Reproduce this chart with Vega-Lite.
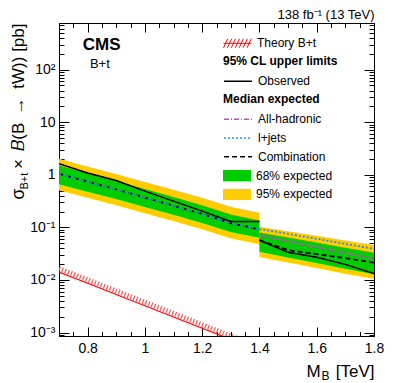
{
  "$schema": "https://vega.github.io/schema/vega-lite/v6.json",
  "width": 315,
  "height": 313,
  "autosize": {"type": "none"},
  "padding": {"left": 59, "top": 23, "right": 25, "bottom": 47},
  "datasets": {
    "bands": [
      {"m": 0.7, "seg": "L", "band": "95% expected", "lo": 0.51, "hi": 2.02},
      {"m": 0.8, "seg": "L", "band": "95% expected", "lo": 0.366, "hi": 1.44},
      {"m": 0.9, "seg": "L", "band": "95% expected", "lo": 0.264, "hi": 1.04},
      {"m": 1.0, "seg": "L", "band": "95% expected", "lo": 0.186, "hi": 0.733},
      {"m": 1.1, "seg": "L", "band": "95% expected", "lo": 0.132, "hi": 0.52},
      {"m": 1.2, "seg": "L", "band": "95% expected", "lo": 0.092, "hi": 0.365},
      {"m": 1.3, "seg": "L", "band": "95% expected", "lo": 0.0618, "hi": 0.246},
      {"m": 1.4, "seg": "L", "band": "95% expected", "lo": 0.0478, "hi": 0.19},
      {"m": 1.4, "seg": "R", "band": "95% expected", "lo": 0.0273, "hi": 0.103},
      {"m": 1.5, "seg": "R", "band": "95% expected", "lo": 0.0214, "hi": 0.084},
      {"m": 1.6, "seg": "R", "band": "95% expected", "lo": 0.0168, "hi": 0.069},
      {"m": 1.7, "seg": "R", "band": "95% expected", "lo": 0.0132, "hi": 0.0563},
      {"m": 1.8, "seg": "R", "band": "95% expected", "lo": 0.0105, "hi": 0.046},
      {"m": 0.7, "seg": "L", "band": "68% expected", "lo": 0.66, "hi": 1.5},
      {"m": 0.8, "seg": "L", "band": "68% expected", "lo": 0.474, "hi": 1.065},
      {"m": 0.9, "seg": "L", "band": "68% expected", "lo": 0.345, "hi": 0.763},
      {"m": 1.0, "seg": "L", "band": "68% expected", "lo": 0.244, "hi": 0.537},
      {"m": 1.1, "seg": "L", "band": "68% expected", "lo": 0.174, "hi": 0.378},
      {"m": 1.2, "seg": "L", "band": "68% expected", "lo": 0.1215, "hi": 0.263},
      {"m": 1.3, "seg": "L", "band": "68% expected", "lo": 0.0816, "hi": 0.176},
      {"m": 1.4, "seg": "L", "band": "68% expected", "lo": 0.0635, "hi": 0.135},
      {"m": 1.4, "seg": "R", "band": "68% expected", "lo": 0.0345, "hi": 0.08},
      {"m": 1.5, "seg": "R", "band": "68% expected", "lo": 0.0268, "hi": 0.0641},
      {"m": 1.6, "seg": "R", "band": "68% expected", "lo": 0.021, "hi": 0.0514},
      {"m": 1.7, "seg": "R", "band": "68% expected", "lo": 0.0164, "hi": 0.0412},
      {"m": 1.8, "seg": "R", "band": "68% expected", "lo": 0.0128, "hi": 0.033}
    ],
    "lines": [
      {"m": 0.7, "series": "Combination", "seg": "L", "v": 1.05},
      {"m": 0.8, "series": "Combination", "seg": "L", "v": 0.74},
      {"m": 0.9, "series": "Combination", "seg": "L", "v": 0.53},
      {"m": 1.0, "series": "Combination", "seg": "L", "v": 0.37},
      {"m": 1.1, "series": "Combination", "seg": "L", "v": 0.26},
      {"m": 1.2, "series": "Combination", "seg": "L", "v": 0.18},
      {"m": 1.3, "series": "Combination", "seg": "L", "v": 0.12},
      {"m": 1.4, "series": "Combination", "seg": "L", "v": 0.092},
      {"m": 1.4, "series": "Combination", "seg": "R", "v": 0.057},
      {"m": 1.5, "series": "Combination", "seg": "R", "v": 0.037},
      {"m": 1.6, "series": "Combination", "seg": "R", "v": 0.031},
      {"m": 1.7, "series": "Combination", "seg": "R", "v": 0.026},
      {"m": 1.8, "series": "Combination", "seg": "R", "v": 0.0213},
      {"m": 0.7, "series": "l+jets", "seg": "A", "v": 1.05},
      {"m": 0.8, "series": "l+jets", "seg": "A", "v": 0.74},
      {"m": 0.9, "series": "l+jets", "seg": "A", "v": 0.53},
      {"m": 1.0, "series": "l+jets", "seg": "A", "v": 0.37},
      {"m": 1.1, "series": "l+jets", "seg": "A", "v": 0.26},
      {"m": 1.2, "series": "l+jets", "seg": "A", "v": 0.18},
      {"m": 1.3, "series": "l+jets", "seg": "A", "v": 0.12},
      {"m": 1.4, "series": "l+jets", "seg": "A", "v": 0.093},
      {"m": 1.5, "series": "l+jets", "seg": "A", "v": 0.0755},
      {"m": 1.6, "series": "l+jets", "seg": "A", "v": 0.0606},
      {"m": 1.7, "series": "l+jets", "seg": "A", "v": 0.0486},
      {"m": 1.8, "series": "l+jets", "seg": "A", "v": 0.039},
      {"m": 1.4, "series": "All-hadronic", "seg": "R", "v": 0.071},
      {"m": 1.5, "series": "All-hadronic", "seg": "R", "v": 0.055},
      {"m": 1.6, "series": "All-hadronic", "seg": "R", "v": 0.0425},
      {"m": 1.7, "series": "All-hadronic", "seg": "R", "v": 0.033},
      {"m": 1.8, "series": "All-hadronic", "seg": "R", "v": 0.0254}
    ],
    "observed": [
      {"m": 0.7, "seg": "L", "obs": "Observed", "v": 1.62},
      {"m": 0.8, "seg": "L", "obs": "Observed", "v": 1.08},
      {"m": 0.9, "seg": "L", "obs": "Observed", "v": 0.78},
      {"m": 1.0, "seg": "L", "obs": "Observed", "v": 0.49},
      {"m": 1.1, "seg": "L", "obs": "Observed", "v": 0.316},
      {"m": 1.2, "seg": "L", "obs": "Observed", "v": 0.204},
      {"m": 1.3, "seg": "L", "obs": "Observed", "v": 0.13},
      {"m": 1.4, "seg": "L", "obs": "Observed", "v": 0.13},
      {"m": 1.4, "seg": "R", "obs": "Observed", "v": 0.057},
      {"m": 1.5, "seg": "R", "obs": "Observed", "v": 0.0335},
      {"m": 1.6, "seg": "R", "obs": "Observed", "v": 0.027},
      {"m": 1.7, "seg": "R", "obs": "Observed", "v": 0.0198},
      {"m": 1.8, "seg": "R", "obs": "Observed", "v": 0.0132}
    ],
    "theory": [
      {"m": 0.7, "th": "Theory B+t", "v": 0.01415},
      {"m": 0.8, "th": "Theory B+t", "v": 0.00865},
      {"m": 0.9, "th": "Theory B+t", "v": 0.00528},
      {"m": 1.0, "th": "Theory B+t", "v": 0.00324},
      {"m": 1.1, "th": "Theory B+t", "v": 0.00198},
      {"m": 1.2, "th": "Theory B+t", "v": 0.00121},
      {"m": 1.3, "th": "Theory B+t", "v": 0.00074},
      {"m": 1.4, "th": "Theory B+t", "v": 0.00045},
      {"m": 1.5, "th": "Theory B+t", "v": 0.00028},
      {"m": 1.6, "th": "Theory B+t", "v": 0.00017},
      {"m": 1.7, "th": "Theory B+t", "v": 0.000104},
      {"m": 1.8, "th": "Theory B+t", "v": 0.000064}
    ]
  },
  "resolve": {"axis": {"x": "independent", "y": "independent"}},
  "layer": [
    {
      "data": {"name": "bands"},
      "transform": [{"filter": "datum.band === '95% expected'"}],
      "mark": {"type": "area", "clip": true, "opacity": 1},
      "encoding": {
        "x": {
          "field": "m", "type": "quantitative",
          "scale": {"domain": [0.7, 1.8], "nice": false, "zero": false},
          "axis": {
            "orient": "bottom",
            "values": [0.7,0.75,0.8,0.85,0.9,0.95,1,1.05,1.1,1.15,1.2,1.25,1.3,1.35,1.4,1.45,1.5,1.55,1.6,1.65,1.7,1.75,1.8],
            "labelExpr": "round(datum.value*100) % 20 === 0 ? format(datum.value, '~g') : ''",
            "tickSize": {"condition": {"test": "round(datum.value*100) % 20 === 0", "value": -9}, "value": -4.5},
            "labelPadding": 14,
            "labelFontSize": 14,
            "labelFlush": false,
            "labelOverlap": false,
            "labelBound": false,
            "title": "[TeV]",
            "titleFontSize": 17,
            "titleX": 315,
            "titleY": 40.5,
            "titleAlign": "right",
            "titleBaseline": "alphabetic",
            "titleAnchor": null
          }
        },
        "y": {
          "field": "lo", "type": "quantitative", "stack": null,
          "scale": {"type": "log", "domain": [0.00086, 770], "nice": false},
          "axis": {
            "orient": "left",
            "values": [0.0009,0.001,0.002,0.003,0.004,0.005,0.006,0.007,0.008,0.009,0.01,0.02,0.03,0.04,0.05,0.06,0.07,0.08,0.09,0.1,0.2,0.3,0.4,0.5,0.6,0.7,0.8,0.9,1,2,3,4,5,6,7,8,9,10,20,30,40,50,60,70,80,90,100,200,300,400,500,600,700],
            "labelExpr": "datum.value===0.001?'10⁻³':datum.value===0.01?'10⁻²':datum.value===0.1?'10⁻¹':datum.value===1?'1':datum.value===10?'10':datum.value===100?'10²':''",
            "tickSize": {"condition": {"test": "indexof([0.001,0.01,0.1,1,10,100], datum.value) >= 0", "value": -10}, "value": -5},
            "labelPadding": 14,
            "labelFontSize": 14,
            "labelFlush": false,
            "labelOverlap": false,
            "labelBound": false,
            "title": "×\u2002𝐵(B\u2002→\u2002tW)) [pb]",
            "titleFontSize": 17,
            "titleX": -36,
            "titleY": 0,
            "titleAngle": 270,
            "titleAlign": "right",
            "titleBaseline": "alphabetic",
            "titleAnchor": null
          }
        },
        "y2": {"field": "hi"},
        "fill": {
          "field": "band", "type": "nominal",
          "scale": {"domain": ["68% expected", "95% expected"], "range": ["#00cc00", "#ffcc00"]},
          "legend": {
            "orient": "none", "legendX": 164, "legendY": 145.7, "title": null,
            "symbolType": "M-1,-0.4H1V0.4H-1Z", "symbolStrokeWidth": 0, "symbolOpacity": 1
          }
        },
        "detail": {"field": "seg"}
      }
    },
    {
      "data": {"name": "bands"},
      "transform": [{"filter": "datum.band === '68% expected'"}],
      "mark": {"type": "area", "clip": true, "opacity": 1},
      "encoding": {
        "x": {
          "field": "m", "type": "quantitative",
          "axis": {
            "orient": "top",
            "values": [0.7,0.75,0.8,0.85,0.9,0.95,1,1.05,1.1,1.15,1.2,1.25,1.3,1.35,1.4,1.45,1.5,1.55,1.6,1.65,1.7,1.75,1.8],
            "labels": false,
            "tickSize": {"condition": {"test": "round(datum.value*100) % 20 === 0", "value": -9}, "value": -4.5},
            "title": "138 fb⁻¹ (13 TeV)",
            "titleFontSize": 13,
            "titleX": 315,
            "titleY": -5,
            "titleAlign": "right",
            "titleBaseline": "alphabetic",
            "titleAnchor": null
          }
        },
        "y": {
          "field": "lo", "type": "quantitative", "stack": null,
          "axis": {
            "orient": "right",
            "values": [0.0009,0.001,0.002,0.003,0.004,0.005,0.006,0.007,0.008,0.009,0.01,0.02,0.03,0.04,0.05,0.06,0.07,0.08,0.09,0.1,0.2,0.3,0.4,0.5,0.6,0.7,0.8,0.9,1,2,3,4,5,6,7,8,9,10,20,30,40,50,60,70,80,90,100,200,300,400,500,600,700],
            "labels": false,
            "tickSize": {"condition": {"test": "indexof([0.001,0.01,0.1,1,10,100], datum.value) >= 0", "value": -10}, "value": -5},
            "title": null
          }
        },
        "y2": {"field": "hi"},
        "fill": {"field": "band", "type": "nominal"},
        "detail": {"field": "seg"}
      }
    },
    {
      "data": {"name": "lines"},
      "mark": {"type": "line", "clip": true, "strokeWidth": 1.8},
      "encoding": {
        "x": {
          "field": "m", "type": "quantitative",
          "axis": {
            "orient": "bottom", "labels": false, "ticks": false, "domain": false,
            "title": "B", "titleFontSize": 12, "titleX": 262, "titleY": 43.5,
            "titleAlign": "left", "titleBaseline": "alphabetic", "titleAnchor": null
          }
        },
        "y": {
          "field": "v", "type": "quantitative",
          "axis": {
            "orient": "left", "labels": false, "ticks": false, "domain": false,
            "title": "σ", "titleFontSize": 17.5, "titleX": -36, "titleY": 176, "titleAngle": 270,
            "titleAlign": "left", "titleBaseline": "alphabetic", "titleAnchor": null
          }
        },
        "stroke": {
          "field": "series", "type": "nominal",
          "scale": {"domain": ["All-hadronic", "l+jets", "Combination"], "range": ["#d63cd6", "#2b8fdc", "#000000"]},
          "legend": {"orient": "none", "legendX": 164, "legendY": 71.3, "title": "Median expected", "symbolType": "stroke", "symbolStrokeWidth": 1.5}
        },
        "strokeDash": {
          "field": "series", "type": "nominal",
          "scale": {"domain": ["All-hadronic", "l+jets", "Combination"], "range": [[5, 2, 1, 2], [2, 2], [5, 3]]},
          "legend": {"orient": "none", "legendX": 164, "legendY": 71.3, "title": "Median expected", "symbolType": "stroke", "symbolStrokeWidth": 1.5}
        },
        "detail": {"field": "seg"}
      }
    },
    {
      "data": {"name": "observed"},
      "mark": {"type": "line", "clip": true, "strokeWidth": 1.5, "color": "black"},
      "encoding": {
        "x": {
          "field": "m", "type": "quantitative",
          "axis": {
            "orient": "bottom", "labels": false, "ticks": false, "domain": false,
            "title": "M", "titleFontSize": 17, "titleX": 247, "titleY": 40.5,
            "titleAlign": "left", "titleBaseline": "alphabetic", "titleAnchor": null
          }
        },
        "y": {
          "field": "v", "type": "quantitative",
          "axis": {
            "orient": "left", "labels": false, "ticks": false, "domain": false,
            "title": "B+t", "titleFontSize": 11, "titleX": -32, "titleY": 166, "titleAngle": 270,
            "titleAlign": "left", "titleBaseline": "alphabetic", "titleAnchor": null
          }
        },
        "opacity": {
          "field": "obs", "type": "nominal", "scale": {"range": [1]},
          "legend": {"orient": "none", "legendX": 164, "legendY": 33.3, "title": "95% CL upper limits", "symbolType": "stroke", "symbolStrokeColor": "black", "symbolStrokeWidth": 1.5}
        },
        "detail": {"field": "seg"}
      }
    },
    {
      "data": {"name": "theory"},
      "mark": {"type": "line", "clip": true, "strokeWidth": 1.2},
      "encoding": {
        "x": {"field": "m", "type": "quantitative", "axis": null},
        "y": {"field": "v", "type": "quantitative", "axis": null},
        "color": {
          "field": "th", "type": "nominal", "scale": {"domain": ["Theory B+t"], "range": ["#ff0000"]},
          "legend": {
            "orient": "none", "legendX": 164, "legendY": 13.3, "title": null,
            "symbolType": "M-1,0H1M-1,0.32L-0.7,-0.32M-0.72,0.32L-0.42,-0.32M-0.44,0.32L-0.14,-0.32M-0.16,0.32L0.14,-0.32M0.12,0.32L0.42,-0.32M0.4,0.32L0.7,-0.32M0.68,0.32L0.98,-0.32",
            "symbolStrokeColor": "#ff3030", "symbolFillColor": "transparent", "symbolStrokeWidth": 1,
            "encode": {"symbols": {"update": {"strokeWidth": {"value": 1}, "stroke": {"value": "#ff3030"}, "fill": {"value": "transparent"}}}}
          }
        }
      }
    },
    {
      "data": {"name": "theory"},
      "mark": {"type": "line", "clip": true, "strokeWidth": 5, "yOffset": -3.5, "strokeDash": [1.2, 2], "color": "#ff5050"},
      "encoding": {
        "x": {"field": "m", "type": "quantitative", "axis": null},
        "y": {"field": "v", "type": "quantitative", "axis": null}
      }
    },
    {
      "data": {"values": [{"label": "CMS"}]},
      "mark": {"type": "text", "align": "left", "baseline": "middle", "fontSize": 17, "fontWeight": "bold", "color": "black"},
      "encoding": {
        "x": {"datum": 0.7828, "type": "quantitative", "axis": null},
        "y": {"datum": 299, "type": "quantitative", "axis": null},
        "text": {"field": "label"}
      }
    },
    {
      "data": {"values": [{"label": "B+t"}]},
      "mark": {"type": "text", "align": "left", "baseline": "middle", "fontSize": 13, "color": "black"},
      "encoding": {
        "x": {"datum": 0.808, "type": "quantitative", "axis": null},
        "y": {"datum": 130, "type": "quantitative", "axis": null},
        "text": {"field": "label"}
      }
    }
  ],
  "config": {
    "font": "Liberation Sans",
    "background": "white",
    "view": {"stroke": "black", "strokeWidth": 1},
    "axis": {
      "grid": false, "domainColor": "black", "tickColor": "black", "tickWidth": 1,
      "labelColor": "black", "titleColor": "black", "labelFont": "Liberation Sans",
      "titleFont": "Liberation Sans", "titleFontWeight": "normal", "offset": 0
    },
    "legend": {
      "labelFont": "Liberation Sans", "labelFontSize": 12, "labelColor": "black",
      "titleFont": "Liberation Sans", "titleFontSize": 12, "titleFontWeight": "bold", "titleColor": "black",
      "padding": 0, "rowPadding": 4.7, "clipHeight": 14, "labelOffset": 5, "symbolSize": 784,
      "titlePadding": 6, "titleAnchor": "start", "labelLimit": 200, "titleLimit": 300
    }
  }
}
